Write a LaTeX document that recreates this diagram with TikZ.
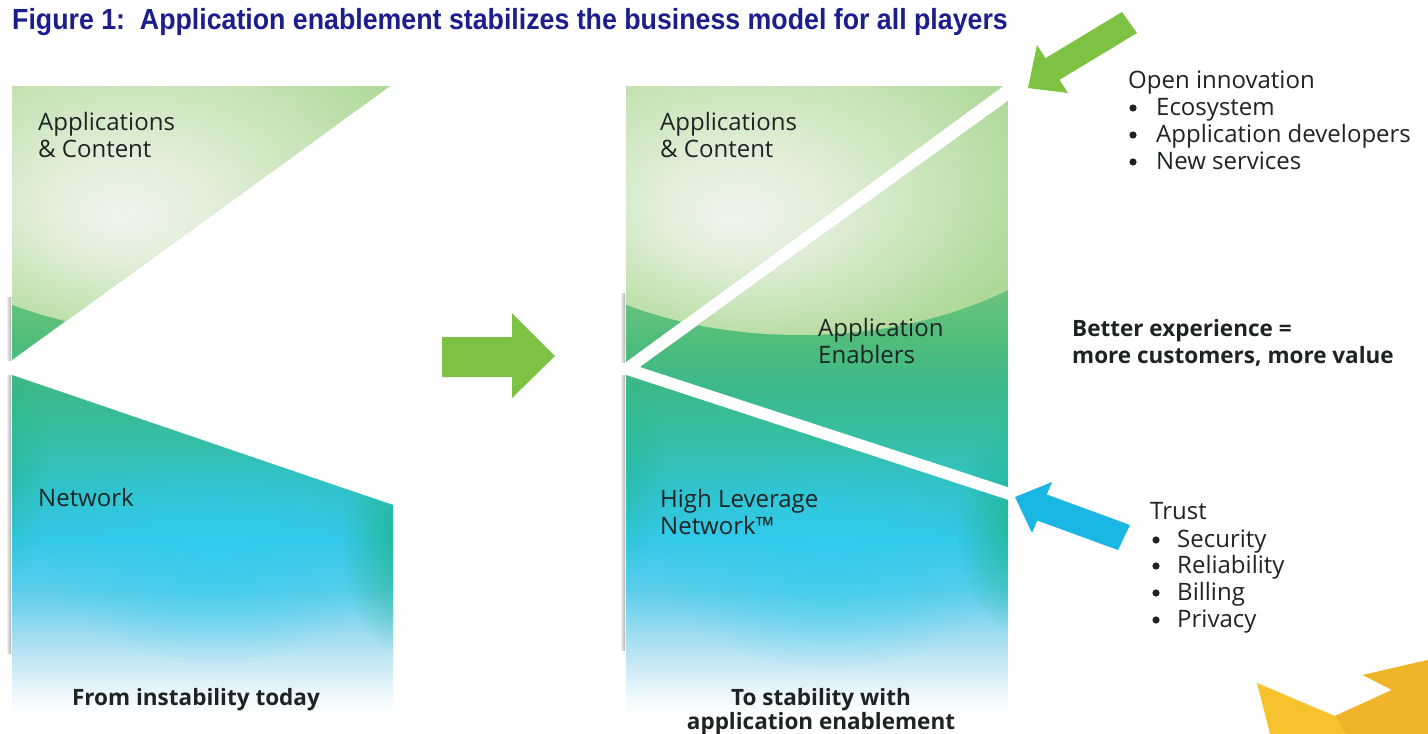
\documentclass[tikz,border=0pt]{standalone}
\usepackage{fontspec}
\setmainfont{Open Sans}
\newfontfamily\titlefont{Liberation Sans}
\usetikzlibrary{fadings}

% palette
\definecolor{titleblue}{HTML}{1B1E8C}
\definecolor{txt}{HTML}{1E2424}
\definecolor{arrowgreen}{HTML}{7DC243}
\definecolor{arrowblue}{HTML}{1BB7E4}
\definecolor{sunA}{HTML}{F6C22E}
\definecolor{sunB}{HTML}{F0B42A}
\definecolor{pA}{HTML}{EEF8FC}
\definecolor{pB}{HTML}{C2E7F4}
\definecolor{pC}{HTML}{98DBF1}
\definecolor{pD}{HTML}{5BCDEB}
\definecolor{pE}{HTML}{34C9EA}
\definecolor{pF}{HTML}{31C3CC}
\definecolor{pG}{HTML}{36BEA6}
\definecolor{pH}{HTML}{3BB98A}
\definecolor{pI}{HTML}{50BD7B}
\definecolor{pJ}{HTML}{66C27D}
\definecolor{pK}{HTML}{8ECB83}
\definecolor{pL}{HTML}{A6D48A}
\definecolor{cA}{HTML}{EEF5EA}
\definecolor{cB}{HTML}{E2EFDA}
\definecolor{cC}{HTML}{CAE5BA}
\definecolor{cD}{HTML}{B4DB9F}
\definecolor{cE}{HTML}{A6D48A}
\definecolor{glowcyan}{HTML}{30CDEE}
\definecolor{edgegreen}{HTML}{1DB584}

% top-to-bottom colour run of a panel (bottom fades to white)
\pgfdeclareverticalshading{panelshade}{100bp}{
  color(0bp)=(white); color(25bp)=(white);
  color(26.59bp)=(pA); color(29.37bp)=(pB); color(31.76bp)=(pC);
  color(34.94bp)=(pD); color(38.91bp)=(pE); color(42.89bp)=(pF);
  color(46.86bp)=(pG); color(50.83bp)=(pH); color(54.81bp)=(pI);
  color(57.99bp)=(pJ); color(65.94bp)=(pK); color(75bp)=(pL);
  color(100bp)=(pL)}

% light cap over the upper part, brightest a little below and left of its centre
\pgfdeclareradialshading{capshade}{\pgfpoint{-4.8bp}{-11.6bp}}{
  color(0bp)=(cA); color(6bp)=(cB); color(13bp)=(cC);
  color(19bp)=(cD); color(25bp)=(cE); color(50bp)=(cE)}

\tikzfading[name=glowfade, inner color=transparent!0, outer color=transparent!100]

\begin{document}
\begin{tikzpicture}[x=1pt,y=-1pt,
  lbl/.style={font=\fontsize{24}{27}\selectfont, text=txt, inner sep=0pt, anchor=base west},
  captionlbl/.style={font=\fontsize{22.5}{27}\selectfont\bfseries, text=txt, inner sep=0pt, anchor=base},
  side/.style={font=\fontsize{24}{27}\selectfont, text=txt, inner sep=0pt, anchor=base west},
  sidebold/.style={font=\fontsize{22.5}{27}\selectfont\bfseries, text=txt, inner sep=0pt, anchor=base west},
  listdot/.style={fill=txt, circle, inner sep=0pt, minimum size=7.2pt},
  shadowline/.style={left color=white, right color=black!32}]

\useasboundingbox (0,0) rectangle (1428,734);
\fill[white] (0,0) rectangle (1428,734);

% title
\node[inner sep=0pt, anchor=base west, text=titleblue,
      font=\titlefont\fontsize{28}{30}\selectfont\bfseries] (title) at (12,29)
  {\scalebox{0.955}[1.04]{Figure 1:\ \ Application enablement stabilizes the business model for all players}};

% ---------------- left panel ----------------
\begin{scope}
  \clip (12,86) -- (390,86) -- (12,360) -- cycle
        (12,375) -- (393,505) -- (393,715) -- (12,715) -- cycle;
  \shade[shading=panelshade] (12,86) rectangle (393,715);
  \shade[shading=capshade] (186,120) ellipse (340 and 215);
  \fill[glowcyan, path fading=glowfade, fill opacity=0.65] (215,555) ellipse (170 and 110);
  \fill[edgegreen, path fading=glowfade, fill opacity=0.85] (405,540) ellipse (65 and 115);
  \fill[edgegreen, path fading=glowfade, fill opacity=0.45] (5,470) ellipse (45 and 110);
\end{scope}
\shade[shadowline] (6,297) rectangle (11,360);
\shade[shadowline] (6,375) rectangle (11,653);

% ---------------- right panel ----------------
\begin{scope}
  \clip (626,86) -- (1003,86) -- (626,362) -- cycle
        (640,367) -- (1008,101) -- (1008,487) -- cycle
        (626,375) -- (1008,500) -- (1008,715) -- (626,715) -- cycle;
  \shade[shading=panelshade] (626,86) rectangle (1008,715);
  \shade[shading=capshade] (800,120) ellipse (340 and 215);
  \fill[glowcyan, path fading=glowfade, fill opacity=0.65] (830,560) ellipse (170 and 110);
  \fill[edgegreen, path fading=glowfade, fill opacity=0.85] (1020,525) ellipse (65 and 110);
  \fill[edgegreen, path fading=glowfade, fill opacity=0.45] (619,470) ellipse (45 and 110);
\end{scope}
\shade[shadowline] (620,293) rectangle (625,362);
\shade[shadowline] (620,375) rectangle (625,650);

% ---------------- arrows ----------------
\fill[arrowgreen] (442,337) -- (512,337) -- (512,313) -- (555,356)
  -- (512,398) -- (512,377) -- (442,377) -- cycle;
\fill[arrowgreen] (1028,88) -- (1037,45) -- (1045.5,58.2) -- (1122,12)
  -- (1137,33) -- (1059.5,79.8) -- (1068,93) -- cycle;
\fill[arrowblue] (1015,497) -- (1052,482) -- (1046.8,494.5) -- (1130,525)
  -- (1118,550) -- (1037.2,520.5) -- (1032,533) -- cycle;

% corner ornament
\fill[sunA] (1257,683) -- (1335,716) -- (1392,690) -- (1363,675) -- (1428,660)
  -- (1428,734) -- (1270,734) -- cycle;
\fill[sunB] (1335,716) -- (1392,690) -- (1363,675) -- (1428,660)
  -- (1428,734) -- (1346,734) -- cycle;

% ---------------- panel labels ----------------
\node[lbl] (lapp1) at (38,130) {Applications};
\node[lbl] (lapp2) at (38,157) {\& Content};
\node[lbl] (lnet) at (38,506) {Network};
\node[captionlbl] (lcap) at (196,705) {From instability today};

\node[lbl] (rapp1) at (660,130) {Applications};
\node[lbl] (rapp2) at (660,157) {\& Content};
\node[lbl] (ren1) at (818,336) {Application};
\node[lbl] (ren2) at (818,363) {Enablers};
\node[lbl] (rnet1) at (660,507) {High Leverage};
\node[lbl] (rnet2) at (660,534) {Network™};
\node[captionlbl] (rcap1) at (821,705) {To stability with};
\node[captionlbl] (rcap2) at (821,729) {application enablement};

% ---------------- side notes ----------------
\node[side] (open) at (1128,88) {Open innovation};
\node[listdot] (dot1) at (1133,108) {};
\node[side] (open1) at (1156,115) {Ecosystem};
\node[listdot] (dot2) at (1133,135) {};
\node[side] (open2) at (1156,142) {Application developers};
\node[listdot] (dot3) at (1133,162) {};
\node[side] (open3) at (1156,169) {New services};

\node[sidebold] (better1) at (1072,336) {Better experience =};
\node[sidebold] (better2) at (1072,363) {more customers, more value};

\node[side] (trust) at (1150,519) {Trust};
\node[listdot] (dot4) at (1156,540) {};
\node[side] (trust1) at (1177,547) {Security};
\node[listdot] (dot5) at (1156,566) {};
\node[side] (trust2) at (1177,573) {Reliability};
\node[listdot] (dot6) at (1156,593) {};
\node[side] (trust3) at (1177,600) {Billing};
\node[listdot] (dot7) at (1156,620) {};
\node[side] (trust4) at (1177,627) {Privacy};
\end{tikzpicture}
\end{document}
